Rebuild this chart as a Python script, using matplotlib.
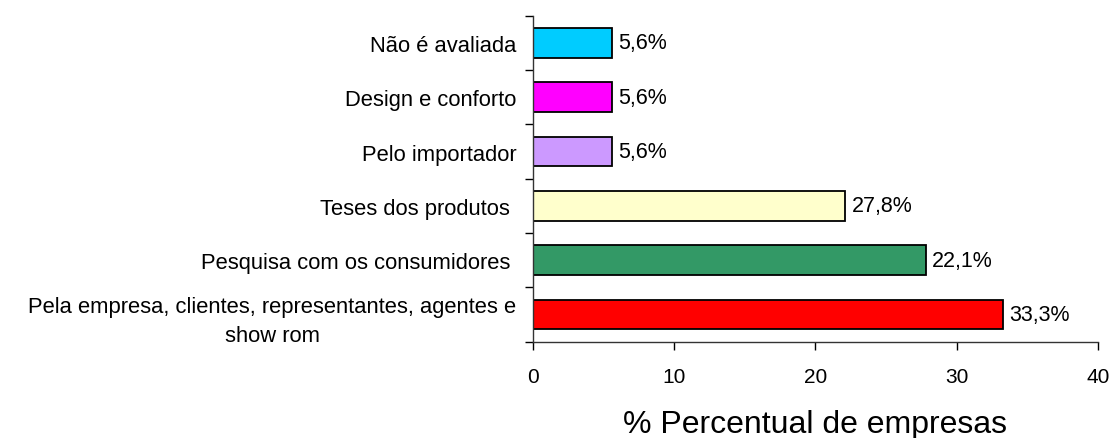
import numpy as np
from matplotlib import pyplot as plt

plt.rcParams['font.family'] = ['Liberation Sans', 'DejaVu Sans']

# categorias de baixo para cima
categorias = [
    "Pela empresa, clientes, representantes, agentes e\nshow rom",
    "Pesquisa com os consumidores ",
    "Teses dos produtos ",
    "Pelo importador",
    "Design e conforto",
    "Não é avaliada",
]
valores = [33.3, 27.8, 22.1, 5.6, 5.6, 5.6]
# rótulos como aparecem no gráfico original
rotulos = ["33,3%", "22,1%", "27,8%", "5,6%", "5,6%", "5,6%"]
cores = ["#FF0000", "#339966", "#FFFFCC", "#CC99FF", "#FF00FF", "#00CCFF"]
xticks = [0, 10, 20, 30, 40]

fig = plt.figure(figsize=(11.13, 4.39), dpi=100)
ax = fig.add_axes([0.4789, 0.2194, 0.5074, 0.7426])

y = np.arange(len(categorias))
ax.barh(y, valores, height=0.55, color=cores, edgecolor="black", linewidth=1.3)

for yi, v, r in zip(y, valores, rotulos):
    ax.text(v + 0.45, yi, r, va="center", ha="left", fontsize=15.5)

ax.set_xlim(0, 40)
ax.set_ylim(-0.5, len(categorias) - 0.5)
ax.set_xticks(xticks)
ax.set_xticklabels([str(t) for t in xticks], fontsize=15)
ax.tick_params(axis="x", direction="out", length=6, width=1, pad=12)

ax.set_yticks(np.arange(len(categorias) + 1) - 0.5)
ax.set_yticklabels([])
ax.set_yticks(y, minor=True)
ax.set_yticklabels(categorias, minor=True, fontsize=15.8,
                   multialignment="center", linespacing=1.5)
ax.tick_params(axis="y", which="major", direction="out", length=6, width=1)
ax.tick_params(axis="y", which="minor", length=0, pad=12)

for s in ["top", "right"]:
    ax.spines[s].set_visible(False)
for s in ["left", "bottom"]:
    ax.spines[s].set_linewidth(1)
    ax.spines[s].set_color("#333333")

ax.set_xlabel("% Percentual de empresas", fontsize=23, labelpad=17)

fig.savefig("out.png", dpi=100)
